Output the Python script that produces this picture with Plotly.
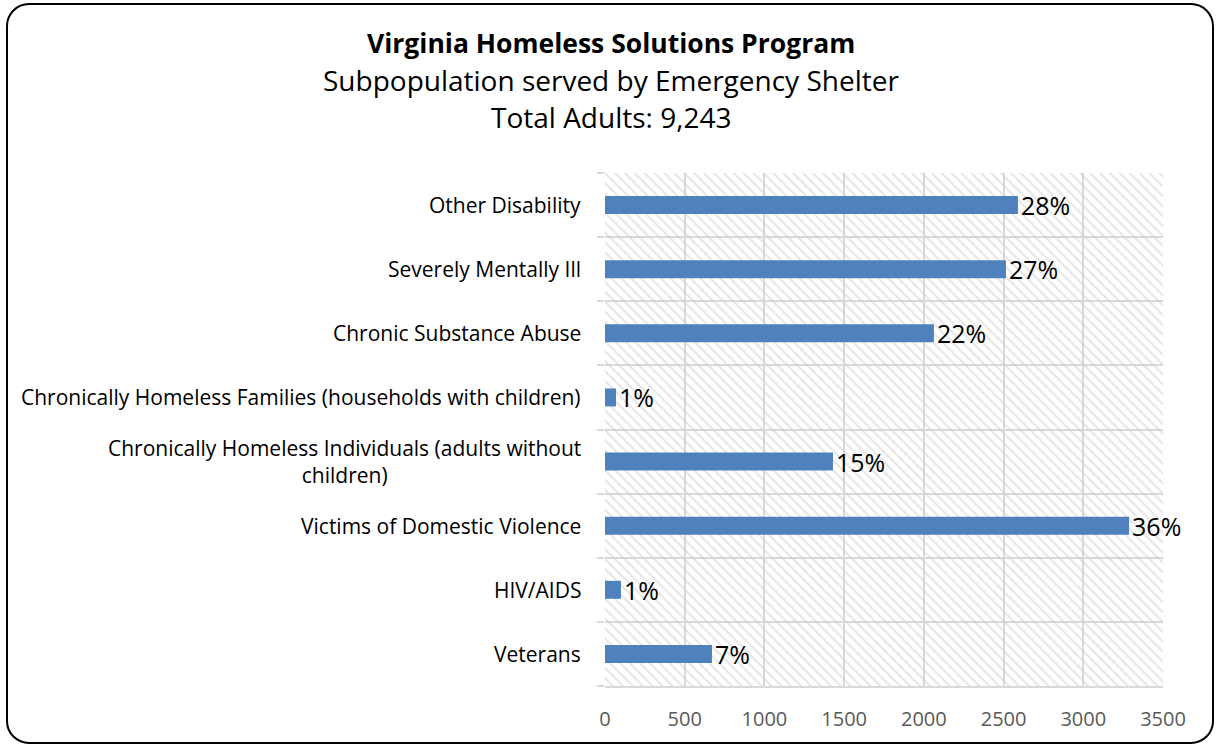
import plotly.graph_objects as go

# ---- data (top to bottom as displayed) ----
categories = [
    "Other Disability",
    "Severely Mentally Ill",
    "Chronic Substance Abuse",
    "Chronically Homeless Families (households with children)",
    "Chronically Homeless Individuals (adults without<br>children)",
    "Victims of Domestic Violence",
    "HIV/AIDS",
    "Veterans",
]
values = [2590, 2515, 2063, 69, 1430, 3287, 100, 671]
labels = ["28%", "27%", "22%", "1%", "15%", "36%", "1%", "7%"]
x_ticks = [0, 500, 1000, 1500, 2000, 2500, 3000, 3500]

title_lines = [
    "<b>Virginia Homeless Solutions Program</b>",
    "Subpopulation served by Emergency Shelter",
    "Total Adults: 9,243",
]

# ---- layout geometry (pixels) ----
W, H = 1218, 746
ML, MR, MT, MB = 605, 55, 173, 60
PW, PH = W - ML - MR, H - MT - MB


def px(x):
    return (x - ML) / PW


def py(y):
    return (H - MB - y) / PH


FONT = "Open Sans"
n = len(categories)
pos = list(range(n))
x_min, x_max = x_ticks[0], x_ticks[-1]

fig = go.Figure()

# hatched plot-area background (one bar spanning the whole category range)
fig.add_trace(go.Bar(
    x=[x_max - x_min], base=[x_min], y=[(n - 1) / 2], width=[n], orientation="h",
    marker=dict(color="rgba(0,0,0,0)", line=dict(width=0),
                pattern=dict(shape="\\", fgcolor="#cccccc", bgcolor="rgba(0,0,0,0)",
                             size=7, solidity=0.28)),
    hoverinfo="skip", showlegend=False,
))

fig.add_trace(go.Bar(
    x=values, y=pos, orientation="h", width=0.28,
    marker=dict(color="#4f81bd", line=dict(width=0)),
    text=labels, textposition="outside", constraintext="none",
    textfont=dict(family=FONT, size=25, color="#000000"),
    cliponaxis=False, showlegend=False,
))

annotations = []
for i, c in enumerate(categories):
    annotations.append(dict(
        x=0, xref="paper", y=i, yref="y", xanchor="right", yanchor="middle",
        xshift=-22, text=c, showarrow=False, align="center",
        font=dict(family=FONT, size=21, color="#000000"),
    ))

title_y = [43, 80, 117]
title_sizes = [26.5, 28, 28]
for t, yy, s in zip(title_lines, title_y, title_sizes):
    annotations.append(dict(
        x=px(611), xref="paper", y=py(yy), yref="paper",
        xanchor="center", yanchor="middle", text=t, showarrow=False,
        font=dict(family=FONT, size=s, color="#000000"),
    ))

# rounded chart border
x0, x1, y0, y1, r = 7, 1213, 4, 743, 22
k = 0.552 * r


def P(x, y):
    return f"{px(x):.5f},{py(y):.5f}"


path = (
    f"M {P(x0 + r, y0)} L {P(x1 - r, y0)} "
    f"C {P(x1 - r + k, y0)} {P(x1, y0 + r - k)} {P(x1, y0 + r)} "
    f"L {P(x1, y1 - r)} "
    f"C {P(x1, y1 - r + k)} {P(x1 - r + k, y1)} {P(x1 - r, y1)} "
    f"L {P(x0 + r, y1)} "
    f"C {P(x0 + r - k, y1)} {P(x0, y1 - r + k)} {P(x0, y1 - r)} "
    f"L {P(x0, y0 + r)} "
    f"C {P(x0, y0 + r - k)} {P(x0 + r - k, y0)} {P(x0 + r, y0)} Z"
)

fig.update_layout(
    width=W, height=H,
    margin=dict(l=ML, r=MR, t=MT, b=MB),
    paper_bgcolor="white", plot_bgcolor="white",
    font=dict(family=FONT),
    annotations=annotations,
    shapes=[dict(type="path", xref="paper", yref="paper", path=path,
                 line=dict(color="#000000", width=2), layer="above")],
    barmode="overlay",
    xaxis=dict(
        range=[x_min, x_max], tickvals=x_ticks, showgrid=True,
        gridcolor="#d9d9d9", gridwidth=1.5, zeroline=False,
        showline=True, linecolor="#d9d9d9", linewidth=1.5,
        ticks="", ticklabelstandoff=14,
        tickfont=dict(family=FONT, size=20, color="#595959"),
        fixedrange=True,
    ),
    yaxis=dict(
        range=[n - 0.5, -0.5], tickvals=pos, showticklabels=False,
        showgrid=False, zeroline=False, showline=False, ticks="",
        minor=dict(tickvals=[p + 0.5 for p in range(-1, n)], showgrid=True,
                   gridcolor="#d9d9d9", gridwidth=1.5, ticks="outside",
                   ticklen=7, tickcolor="#d9d9d9", tickwidth=1.5),
        fixedrange=True,
    ),
)

fig.write_html("out.html", config={"displayModeBar": False},
               post_script="document.body.style.margin='0';")
